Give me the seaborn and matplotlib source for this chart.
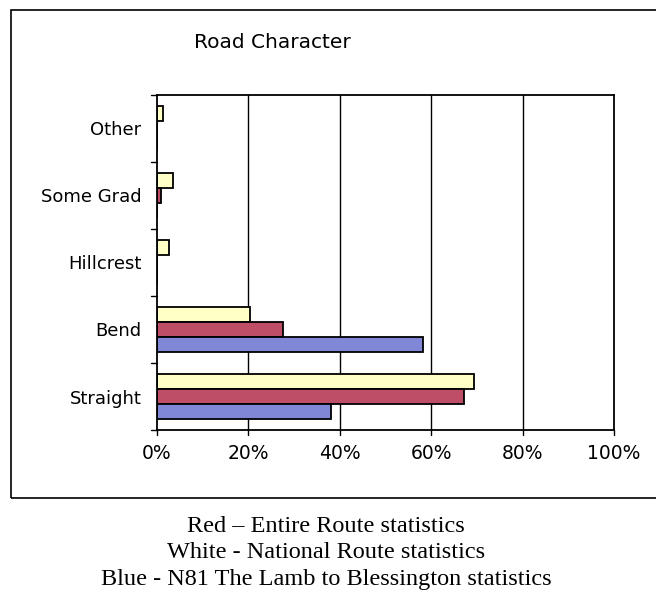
import pandas as pd
import matplotlib.pyplot as plt
import seaborn as sns
from matplotlib.patches import Rectangle

# categories listed top to bottom as in the chart
categories = ['Other', 'Some Grad', 'Hillcrest', 'Bend', 'Straight']
national = [1.3, 3.5, 2.6, 20.4, 69.4]   # white / cream bars
entire = [0.0, 0.9, 0.0, 27.6, 67.2]     # red bars
n81 = [0.0, 0.0, 0.0, 58.2, 38.0]        # blue bars

series_names = ['National', 'Entire', 'N81']
series_colors = ['#FFFFC6', '#BE4D67', '#7F87D6']
x_ticks = [0, 20, 40, 60, 80, 100]


def build_frame():
    rows = []
    for name, vals in zip(series_names, [national, entire, n81]):
        for cat, v in zip(categories, vals):
            rows.append({'cat': cat, 'series': name, 'value': v})
    return pd.DataFrame(rows)


def main():
    df = build_frame()
    sns.set_style('white')
    plt.rcParams['font.family'] = ['DejaVu Sans']
    plt.rcParams['text.color'] = 'black'
    plt.rcParams['xtick.color'] = 'black'
    plt.rcParams['ytick.color'] = 'black'

    fig = plt.figure(figsize=(6.56, 6.04), dpi=100)
    ax = fig.add_axes([0.239, 0.288, 0.697, 0.555])

    sns.barplot(data=df, y='cat', x='value', hue='series', order=categories,
                hue_order=series_names, palette=series_colors, orient='h',
                width=0.67, edgecolor='black', linewidth=1.3, saturation=1,
                legend=False, ax=ax)

    ax.set_xlim(0, 100)
    ax.set_ylim(len(categories) - 0.5, -0.5)
    ax.set_xticks(x_ticks)
    ax.set_xticklabels([f'{t}%' for t in x_ticks], fontsize=13.5)
    ax.set_yticks(range(len(categories)))
    ax.set_yticklabels(categories, fontsize=13)
    ax.tick_params(axis='y', length=0, pad=11)
    ax.tick_params(axis='x', length=0, pad=10)
    # excel-like small ticks at category boundaries
    for b in [i - 0.5 for i in range(len(categories) + 1)]:
        ax.plot([-1.2, 0], [b, b], color='black', lw=1, clip_on=False)
    for t in x_ticks:
        ax.plot([t, t], [len(categories) - 0.5, len(categories) - 0.42],
                color='black', lw=1, clip_on=False)
    for t in x_ticks[1:-1]:
        ax.axvline(t, color='black', lw=1, zorder=0)
    ax.set_xlabel('')
    ax.set_ylabel('')
    for s in ax.spines.values():
        s.set_visible(True)
        s.set_color('black')
        s.set_linewidth(1.3)

    fig.text(0.415, 0.93, 'Road Character', ha='center', va='center', fontsize=14.5)

    # outer frame of the chart
    fig.patches.append(Rectangle((11 / 656, 1 - 498 / 604), 1.0, (498 - 10) / 604,
                                 transform=fig.transFigure, fill=False,
                                 edgecolor='black', lw=1.2))

    notes = ['Red \u2013 Entire Route statistics',
             'White - National Route statistics',
             'Blue - N81 The Lamb to Blessington statistics']
    for i, line in enumerate(notes):
        fig.text(0.497, 1 - (527 + 26 * i) / 604, line, ha='center', va='center',
                 fontsize=17.5, family='Liberation Serif')

    fig.savefig('out.png', dpi=100)


if __name__ == '__main__':
    main()
